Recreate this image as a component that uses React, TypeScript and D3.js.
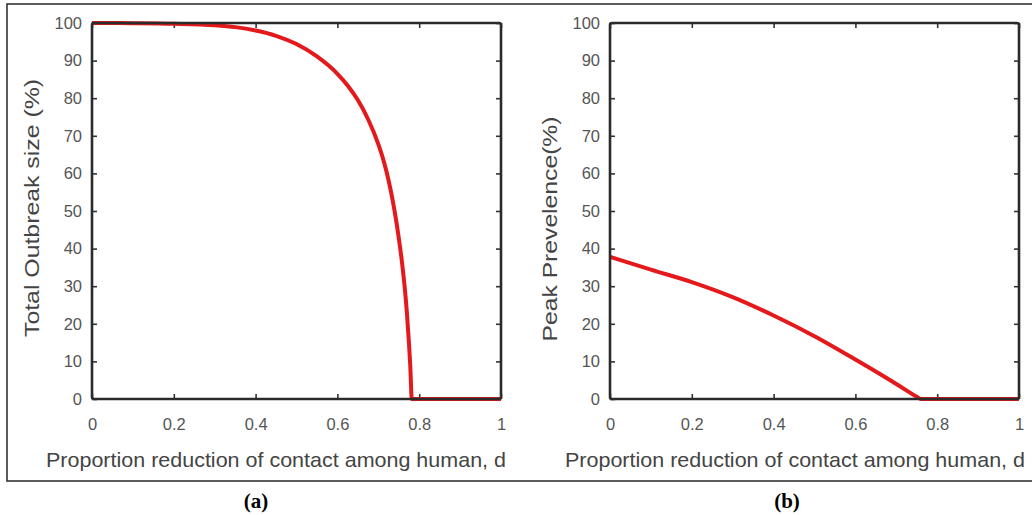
import React, { useRef, useEffect } from "react";
import * as d3 from "d3";

// panel (a): total outbreak size vs contact reduction
const outbreakD = [0, 0.1, 0.2, 0.3, 0.35, 0.4, 0.45, 0.5, 0.55, 0.6, 0.625, 0.65, 0.675, 0.7, 0.71, 0.72, 0.73, 0.74, 0.75, 0.76, 0.765, 0.77, 0.775, 0.778, 0.782, 0.8, 0.9, 1];
const outbreakSize = [100, 99.95, 99.8, 99.4, 98.9, 98.0, 96.6, 94.4, 91.1, 86.5, 83.4, 79.5, 74.4, 67.8, 64.5, 60.5, 55.7, 49.9, 42.9, 34.4, 29.2, 22.8, 14.8, 9.2, 0, 0, 0, 0];

// panel (b): peak prevalence vs contact reduction
const peakD = [0, 0.1, 0.2, 0.3, 0.4, 0.5, 0.6, 0.7, 0.75, 0.76, 0.8, 0.9, 1];
const peakPrev = [37.8, 34.4, 31.1, 27.1, 22.2, 16.7, 10.5, 4.0, 0.6, 0, 0, 0, 0];

const xTicks = [0, 0.2, 0.4, 0.6, 0.8, 1];
const yTicks = [0, 10, 20, 30, 40, 50, 60, 70, 80, 90, 100];

const xTitle = "Proportion reduction of contact among human, d";
const panels = [
  { left: 92, d: outbreakD, v: outbreakSize, yTitle: "Total Outbreak size (%)", yTitleX: 39, yTitleY: 208, yTitleLen: 258, xTitleX: 276, caption: "(a)", capX: 256 },
  { left: 610, d: peakD, v: peakPrev, yTitle: "Peak Prevelence(%)", yTitleX: 557, yTitleY: 229, yTitleLen: 225, xTitleX: 795, caption: "(b)", capX: 787 },
];

const W = 1032;
const H = 515;
const top = 23;
const bottom = 399;
const plotW = 409;

const App = () => {
  const svgRef = useRef<SVGSVGElement>(null);

  useEffect(() => {
    const svg = d3.select(svgRef.current);
    svg.selectAll("*").remove();

    // outer frame (right edge runs off the image)
    svg.append("rect")
      .attr("x", 7).attr("y", 4)
      .attr("width", W + 10).attr("height", 477)
      .attr("fill", "none").attr("stroke", "#333").attr("stroke-width", 1.6);

    panels.forEach((p) => {
      const x = d3.scaleLinear().domain([0, 1]).range([p.left, p.left + plotW]);
      const y = d3.scaleLinear().domain([0, 100]).range([bottom, top]);
      const g = svg.append("g");

      const styleAxis = (sel) => {
        sel.select(".domain").remove();
        sel.selectAll("line").attr("stroke", "#333").attr("stroke-width", 1.6);
        sel.selectAll("text")
          .attr("fill", "#555")
          .attr("font-family", "'Liberation Sans', Arial, sans-serif")
          .attr("font-size", 16.5);
      };

      g.append("g")
        .attr("transform", `translate(0,${bottom})`)
        .call(d3.axisBottom(x).tickValues(xTicks).tickFormat(d3.format("")).tickSizeInner(-5).tickSizeOuter(0).tickPadding(19))
        .call(styleAxis);
      g.append("g")
        .attr("transform", `translate(0,${top})`)
        .call(d3.axisTop(x).tickValues(xTicks).tickFormat(() => "").tickSizeInner(-5).tickSizeOuter(0))
        .call(styleAxis);
      g.append("g")
        .attr("transform", `translate(${p.left},0)`)
        .call(d3.axisLeft(y).tickValues(yTicks).tickSizeInner(-5).tickSizeOuter(0).tickPadding(10))
        .call(styleAxis);
      g.append("g")
        .attr("transform", `translate(${p.left + plotW},0)`)
        .call(d3.axisRight(y).tickValues(yTicks).tickFormat(() => "").tickSizeInner(-5).tickSizeOuter(0))
        .call(styleAxis);

      // data line
      const pts = p.d.map((d, i) => [d, p.v[i]] as [number, number]);
      g.append("path")
        .datum(pts)
        .attr("fill", "none")
        .attr("stroke", "#e3191c")
        .attr("stroke-width", 4)
        .attr("stroke-linejoin", "round")
        .attr("d", d3.line<[number, number]>()
          .x((d) => x(d[0]))
          .y((d) => y(d[1]))
          .curve(d3.curveMonotoneX));

      // box
      g.append("rect")
        .attr("x", p.left).attr("y", top)
        .attr("width", plotW).attr("height", bottom - top)
        .attr("rx", 2)
        .attr("fill", "none").attr("stroke", "#2b2b2b").attr("stroke-width", 2.6);

      // axis titles
      g.append("text")
        .attr("x", p.xTitleX).attr("y", 467)
        .attr("text-anchor", "middle")
        .attr("font-family", "'Liberation Sans', Arial, sans-serif")
        .attr("font-size", 21)
        .attr("fill", "#444")
        .attr("textLength", 460)
        .attr("lengthAdjust", "spacingAndGlyphs")
        .text(xTitle);
      g.append("text")
        .attr("transform", `translate(${p.yTitleX},${p.yTitleY}) rotate(-90)`)
        .attr("text-anchor", "middle")
        .attr("font-family", "'Liberation Sans', Arial, sans-serif")
        .attr("font-size", 21)
        .attr("fill", "#444")
        .attr("textLength", p.yTitleLen)
        .attr("lengthAdjust", "spacingAndGlyphs")
        .text(p.yTitle);

      // caption
      svg.append("text")
        .attr("x", p.capX).attr("y", 508)
        .attr("text-anchor", "middle")
        .attr("font-family", "'Liberation Serif', 'Times New Roman', serif")
        .attr("font-weight", "bold")
        .attr("font-size", 21)
        .attr("fill", "#000")
        .text(p.caption);
    });
  }, []);

  return (
    <div>
      <svg
        ref={svgRef}
        width={W}
        height={H}
        style={{ position: "absolute", left: 0, top: 0, background: "#fff" }}
      ></svg>
    </div>
  );
};

export default App;
